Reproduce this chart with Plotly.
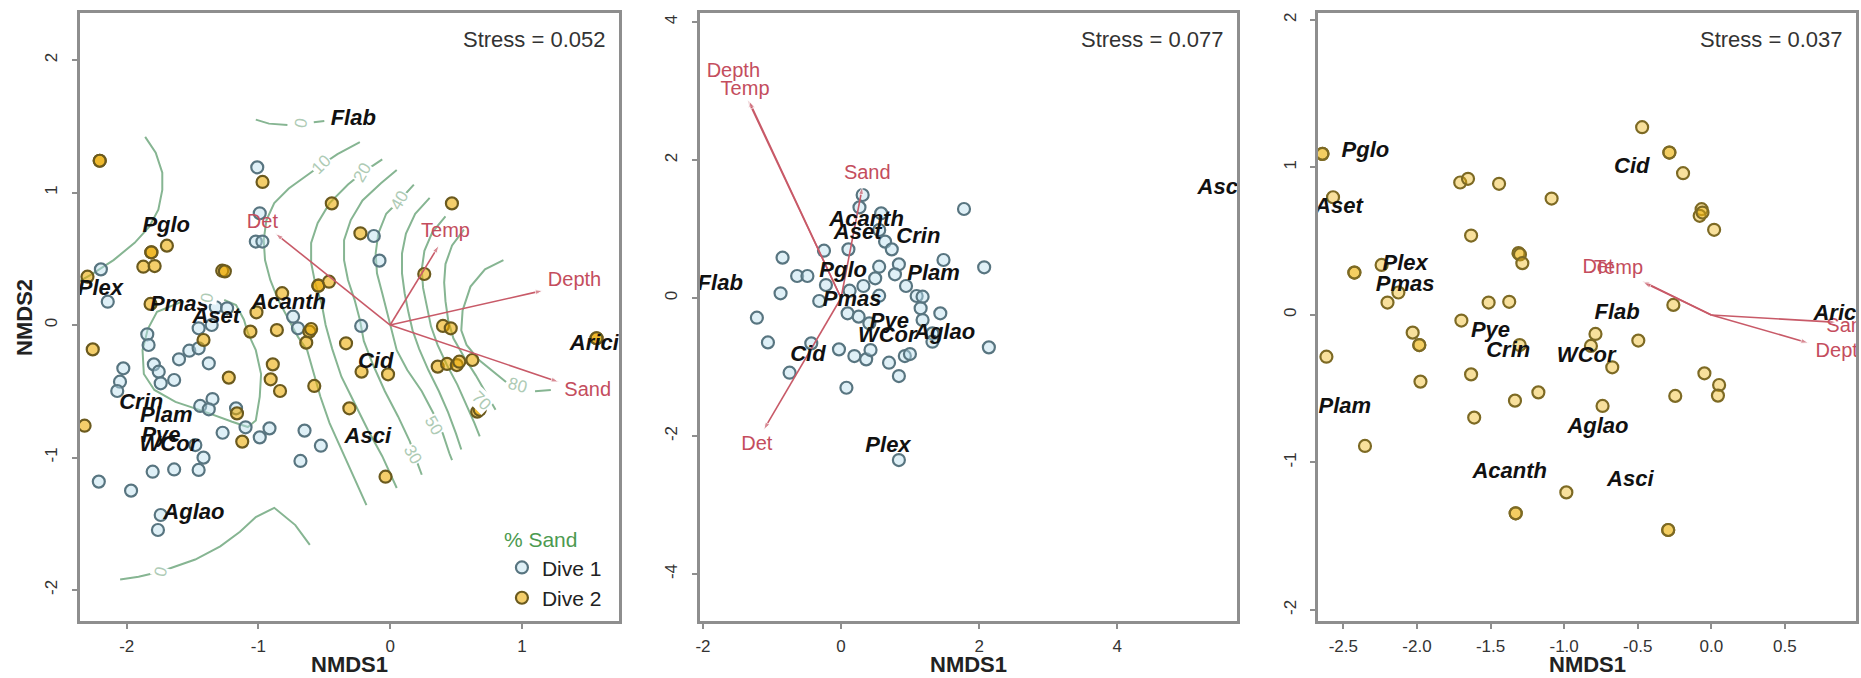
import plotly.graph_objects as go

# ---------------- data ----------------
# Panel 1: both dives, with % sand surface
p1_dive1 = [(-1.009, 1.19), (-0.99, 0.843), (-1.02, 0.63), (-0.97, 0.63), (-0.124, 0.672), (-0.081, 0.486),
            (-2.196, 0.42), (-2.144, 0.176), (-1.324, 0.134), (-1.238, 0.126), (-1.454, -0.025), (-1.355, 0.0),
            (-0.737, 0.063), (-0.70, -0.025), (-0.22, -0.007), (-1.844, -0.07), (-1.834, -0.151),
            (-2.026, -0.327), (-2.051, -0.428), (-2.072, -0.498), (-1.794, -0.297), (-1.757, -0.352),
            (-1.742, -0.44), (-1.64, -0.415), (-1.603, -0.259), (-1.525, -0.194), (-1.454, -0.176),
            (-1.377, -0.289), (-1.349, -0.559), (-1.442, -0.611), (-1.377, -0.636), (-1.17, -0.629),
            (-1.272, -0.813), (-1.098, -0.772), (-0.99, -0.848), (-0.916, -0.78), (-0.65, -0.797),
            (-0.526, -0.911), (-0.681, -1.026), (-1.417, -1.001), (-1.479, -0.906), (-1.64, -1.09),
            (-1.454, -1.094), (-1.803, -1.107), (-2.212, -1.182), (-1.967, -1.25), (-1.742, -1.434),
            (-1.763, -1.547)]
p1_dive2 = [(-2.205, 1.24), (-2.205, 1.24), (-0.969, 1.08), (-0.443, 0.918), (0.469, 0.918), (-0.226, 0.692),
            (-1.695, 0.599), (-1.813, 0.549), (-1.813, 0.549), (-1.874, 0.44), (-1.788, 0.445), (-1.275, 0.41),
            (-1.255, 0.405), (0.259, 0.385), (-0.545, 0.297), (-0.545, 0.297), (-0.464, 0.327), (-0.82, 0.24),
            (-1.819, 0.159), (-1.015, 0.096), (-1.061, -0.05), (-0.86, -0.038), (-0.613, -0.05),
            (-0.60, -0.03), (0.401, -0.007), (0.46, -0.025), (-2.298, 0.365), (1.567, -0.1), (1.567, -0.1),
            (-0.637, -0.133), (-0.335, -0.138), (-2.258, -0.184), (-1.417, -0.113), (-0.891, -0.297),
            (-1.225, -0.397), (-0.907, -0.41), (-0.836, -0.498), (-0.576, -0.46), (-0.217, -0.352),
            (-0.016, -0.372), (0.361, -0.314), (0.432, -0.294), (0.506, -0.302), (0.525, -0.277),
            (0.624, -0.264), (0.661, -0.654), (0.68, -0.64), (-0.31, -0.629), (-1.163, -0.667),
            (-2.32, -0.76), (-1.123, -0.88), (-0.035, -1.145)]
p1_species = ["Flab", "Pglo", "Plex", "Pmas", "Aset", "Acanth", "Arici", "Cid", "Crin", "Plam", "Pye",
              "WCor", "Asci", "Aglao"]
p1_species_x = [-0.28, -1.70, -2.20, -1.60, -1.32, -0.77, 1.55, -0.11, -1.89, -1.70, -1.74, -1.68, -0.17, -1.49]
p1_species_y = [1.55, 0.74, 0.27, 0.15, 0.06, 0.16, -0.15, -0.28, -0.59, -0.69, -0.84, -0.91, -0.85, -1.42]
p1_vectors = ["Det", "Temp", "Depth", "Sand"]
p1_vec_x = [-0.87, 0.37, 1.16, 1.28]
p1_vec_y = [0.69, 0.60, 0.26, -0.43]
p1_vec_lab_x = [-0.97, 0.42, 1.40, 1.50]
p1_vec_lab_y = [0.77, 0.70, 0.33, -0.50]

# % Sand contour paths (x list, y list); None breaks a path
p1_contours = [
    ([-1.02, -0.92, -0.78, None, -0.58, -0.50], [1.55, 1.52, 1.51, None, 1.53, 1.54]),
    ([-1.86, -1.78, -1.73, -1.73, -1.76, -1.83, -1.94, -2.10, -2.27, -2.36],
     [1.42, 1.30, 1.15, 1.02, 0.87, 0.74, 0.62, 0.49, 0.38, 0.33]),
    ([-1.57, -1.77, -1.84, -1.88, -1.87, -1.79, -1.63, -1.42, -1.20, -1.08, -1.02, -0.99, -0.98, -1.02,
      -1.08, -1.11, -1.17, -1.26],
     [0.18, 0.10, -0.03, -0.19, -0.37, -0.49, -0.58, -0.65, -0.73, -0.77, -0.72, -0.54, -0.37, -0.19,
      -0.06, 0.04, 0.15, 0.19]),
    ([-2.05, -1.91, -1.74, -1.65, -1.48, -1.29, -1.14, -1.02, -0.88, -0.72, -0.61],
     [-1.92, -1.90, -1.86, -1.83, -1.77, -1.67, -1.56, -1.45, -1.38, -1.51, -1.66]),
    ([-0.23, -0.40, -0.52, -0.63, -0.77, -0.88, -0.94, -0.96, -0.95, -0.91, -0.85, -0.77, -0.70, -0.63,
      -0.58, -0.53, -0.46, -0.37, -0.27, -0.18],
     [1.38, 1.29, 1.21, 1.13, 1.03, 0.92, 0.79, 0.64, 0.49, 0.34, 0.19, 0.04, -0.09, -0.19, -0.37, -0.54,
      -0.74, -0.94, -1.15, -1.36]),
    ([-0.06, -0.21, -0.32, -0.46, -0.55, -0.60, -0.60, -0.57, -0.52, -0.49, -0.44, -0.37, -0.27, -0.17,
      -0.06, 0.05],
     [1.25, 1.15, 1.06, 0.92, 0.77, 0.62, 0.47, 0.32, 0.16, 0.0, -0.18, -0.39, -0.59, -0.79, -0.99, -1.23]),
    ([0.05, -0.07, -0.21, -0.30, -0.35, -0.35, -0.32, -0.27, -0.23, -0.20, -0.13, -0.04, 0.06, 0.15, 0.21,
      0.24],
     [1.17, 1.07, 0.94, 0.79, 0.64, 0.49, 0.34, 0.19, 0.04, -0.12, -0.30, -0.50, -0.69, -0.88, -1.05,
      -1.13]),
    ([0.18, 0.07, -0.03, -0.09, -0.11, -0.10, -0.06, -0.02, 0.01, 0.05, 0.13, 0.24, 0.33, 0.40, 0.45,
      0.47],
     [1.06, 0.94, 0.84, 0.69, 0.54, 0.39, 0.24, 0.09, -0.04, -0.19, -0.34, -0.50, -0.67, -0.82, -0.97,
      -1.02]),
    ([0.30, 0.19, 0.12, 0.09, 0.09, 0.11, 0.14, 0.17, 0.22, 0.29, 0.37, 0.44, 0.50, 0.54],
     [0.96, 0.84, 0.69, 0.54, 0.39, 0.24, 0.09, -0.04, -0.18, -0.34, -0.50, -0.66, -0.82, -0.94]),
    ([0.42, 0.32, 0.26, 0.24, 0.25, 0.28, 0.31, 0.36, 0.43, 0.51, 0.58, 0.64, 0.68],
     [0.82, 0.70, 0.56, 0.42, 0.28, 0.13, -0.01, -0.15, -0.30, -0.45, -0.60, -0.74, -0.84]),
    ([0.56, 0.47, 0.42, 0.41, 0.42, 0.44, 0.48, 0.56, 0.65, 0.73, 0.80],
     [0.72, 0.60, 0.46, 0.32, 0.18, 0.04, -0.10, -0.24, -0.38, -0.52, -0.64]),
    ([0.86, 0.72, 0.61, 0.55, 0.54, 0.58, 0.67, 0.78, 0.88, None, 1.10, 1.22],
     [0.49, 0.42, 0.29, 0.11, -0.04, -0.15, -0.26, -0.35, -0.43, None, -0.50, -0.49]),
]
p1_contour_labels = ["0", "10", "20", "40", "30", "50", "70", "80", "0", "0"]
p1_contour_lab_x = [-0.675, -0.52, -0.21, 0.07, 0.17, 0.33, 0.69, 0.97, -1.74, -1.39]
p1_contour_lab_y = [1.52, 1.21, 1.15, 0.94, -0.98, -0.76, -0.57, -0.46, -1.86, 0.20]
p1_contour_lab_angle = [-80, -45, -60, -60, 60, 60, 45, 15, -75, -80]

# Panel 2: dive 1
p2_dive1 = [(0.313, 1.493), (0.267, 1.314), (1.781, 1.29), (0.581, 1.227), (0.553, 0.986), (0.638, 0.817),
            (0.735, 0.705), (-0.247, 0.686), (0.107, 0.705), (-0.847, 0.585), (1.484, 0.551), (2.073, 0.445),
            (-0.636, 0.319), (-0.487, 0.319), (0.552, 0.454), (0.495, 0.285), (0.838, 0.488), (0.781, 0.343),
            (-0.219, 0.188), (0.324, 0.174), (0.124, 0.106), (0.941, 0.174), (-0.876, 0.068), (-0.316, -0.043),
            (0.552, 0.034), (1.095, 0.029), (1.181, 0.019), (1.153, -0.149), (1.438, -0.222), (0.095, -0.222),
            (0.255, -0.27), (-1.219, -0.285), (0.41, -0.367), (1.181, -0.319), (1.324, -0.512),
            (-1.059, -0.643), (-0.431, -0.657), (-0.03, -0.744), (0.193, -0.841), (0.364, -0.889),
            (0.427, -0.754), (0.695, -0.937), (0.924, -0.841), (0.998, -0.812), (1.324, -0.633),
            (2.141, -0.715), (-0.745, -1.082), (0.838, -1.131), (0.078, -1.3), (0.838, -2.348)]
p2_species = ["Flab", "Acanth", "Aset", "Crin", "Pglo", "Plam", "Pmas", "Pye", "WCor", "Aglao", "Cid",
              "Plex", "Asci"]
p2_species_x = [-1.75, 0.37, 0.24, 1.12, 0.03, 1.34, 0.16, 0.70, 0.67, 1.50, -0.48, 0.68, 5.50]
p2_species_y = [0.20, 1.13, 0.94, 0.88, 0.38, 0.34, -0.03, -0.36, -0.56, -0.52, -0.83, -2.15, 1.58]
p2_vectors = ["Depth", "Temp", "Sand", "Det"]
p2_vec_x = [-1.35, -1.33, 0.31, -1.12]
p2_vec_y = [2.87, 2.85, 1.61, -1.91]
p2_vec_lab_x = [-1.56, -1.39, 0.38, -1.22]
p2_vec_lab_y = [3.28, 3.02, 1.80, -2.13]

# Panel 3: dive 2
p3_dive2 = [(-2.642, 1.092), (-2.642, 1.092), (-2.57, 0.798), (-2.425, 0.287), (-2.425, 0.287),
            (-2.24, 0.339), (-2.126, 0.152), (-2.2, 0.084), (-0.47, 1.273), (-0.285, 1.101), (-0.285, 1.101),
            (-0.192, 0.961), (-0.066, 0.717), (-0.079, 0.672), (-0.06, 0.694), (0.019, 0.577),
            (-1.706, 0.898), (-1.653, 0.923), (-1.442, 0.889), (-1.085, 0.789), (-1.632, 0.538),
            (-1.31, 0.419), (-1.30, 0.41), (-1.284, 0.351), (-1.513, 0.084), (-1.373, 0.089),
            (-1.698, -0.038), (-0.258, 0.068), (-0.787, -0.129), (-0.496, -0.174), (-2.029, -0.12),
            (-2.615, -0.283), (-1.984, -0.204), (-1.984, -0.204), (-1.976, -0.452), (-1.632, -0.403),
            (-1.302, -0.204), (-0.818, -0.21), (-0.673, -0.355), (-0.047, -0.396), (0.053, -0.475),
            (0.045, -0.547), (-0.245, -0.549), (-1.175, -0.525), (-1.334, -0.581), (-0.739, -0.617),
            (-1.611, -0.696), (-2.353, -0.888), (-0.985, -1.203), (-1.329, -1.345), (-1.329, -1.345),
            (-0.293, -1.458), (-0.293, -1.458)]
p3_species = ["Pglo", "Aset", "Cid", "Plex", "Pmas", "Flab", "Arici", "Pye", "Crin", "WCor", "Plam",
              "Aglao", "Acanth", "Asci"]
p3_species_x = [-2.35, -2.53, -0.54, -2.08, -2.08, -0.64, 0.86, -1.50, -1.38, -0.85, -2.49, -0.77, -1.37, -0.55]
p3_species_y = [1.11, 0.73, 1.00, 0.34, 0.20, 0.01, 0.00, -0.11, -0.25, -0.28, -0.63, -0.76, -1.07, -1.12]
p3_vectors = ["Det", "Temp", "Depth", "Sand"]
p3_vec_x = [-0.47, -0.46, 0.66, 0.85]
p3_vec_y = [0.23, 0.22, -0.19, -0.05]
p3_vec_lab_x = [-0.77, -0.63, 0.89, 0.94]
p3_vec_lab_y = [0.32, 0.31, -0.25, -0.08]

stress_values = ["0.052", "0.077", "0.037"]

# ---------------- style ----------------
W, H = 1861, 678
FONT = "Liberation Sans, Arial, sans-serif"
DIVE1_FILL, DIVE1_LINE = "rgba(185,222,238,0.45)", "#587580"
DIVE2_FILL, DIVE2_LINE = "rgba(236,170,0,0.58)", "#6b5a1e"
DIVE2_FILL_PALE, DIVE2_LINE_PALE = "rgba(238,180,20,0.42)", "#7d6a24"
ARROW = "#c85a68"
VEC_TXT = "#c44d5d"
CONTOUR = "#86b592"
CONTOUR_TXT = "#aecbb5"

# plot boxes in pixels: (left, right) and shared (top, bottom)
boxes = [(76, 616), (697, 1236), (1317, 1856)]
top_px, bot_px = 13, 621
ranges = [((-2.356, 1.735), (-2.234, 2.355)),
          ((-2.05, 5.74), (-4.68, 4.13)),
          ((-2.671, 0.983), (-2.075, 2.047))]
xticks = [[-2, -1, 0, 1], [-2, 0, 2, 4], [-2.5, -2.0, -1.5, -1.0, -0.5, 0.0, 0.5]]
xticktext = [["-2", "-1", "0", "1"], ["-2", "0", "2", "4"],
             ["-2.5", "-2.0", "-1.5", "-1.0", "-0.5", "0.0", "0.5"]]
yticks = [[-2, -1, 0, 1, 2], [-4, -2, 0, 2, 4], [-2, -1, 0, 1, 2]]
yticktext = [["-2", "-1", "0", "1", "2"], ["-4", "-2", "0", "2", "4"], ["-2", "-1", "0", "1", "2"]]

fig = go.Figure()


def xy(pts):
    return [p[0] for p in pts], [p[1] for p in pts]


def add_points(pts, fill, line, name, i, show):
    x, y = xy(pts)
    fig.add_trace(go.Scatter(
        x=x, y=y, mode="markers", name=name, showlegend=show, legendgroup=name,
        marker=dict(size=12, color=fill, line=dict(color=line, width=2.2)),
        xaxis=f"x{i}", yaxis=f"y{i}", hoverinfo="skip"))


def add_vectors(names, vx, vy, lx, ly, i):
    for a, b in zip(vx, vy):
        fig.add_trace(go.Scatter(
            x=[0, a], y=[0, b], mode="lines+markers", showlegend=False,
            line=dict(color=ARROW, width=1.6),
            marker=dict(symbol=["circle", "arrow"], size=[0, 8], color=ARROW, angleref="previous"),
            xaxis=f"x{i}", yaxis=f"y{i}", hoverinfo="skip"))
    fig.add_trace(go.Scatter(
        x=lx, y=ly, text=names, mode="text", showlegend=False,
        textfont=dict(family=FONT, size=20, color=VEC_TXT),
        xaxis=f"x{i}", yaxis=f"y{i}", hoverinfo="skip"))


def add_species(names, sx, sy, i):
    fig.add_trace(go.Scatter(
        x=sx, y=sy, text=[f"<b><i>{n}</i></b>" for n in names], mode="text", showlegend=False,
        textfont=dict(family=FONT, size=22, color="#111111"),
        xaxis=f"x{i}", yaxis=f"y{i}", hoverinfo="skip"))


# panel 1
for cx, cy in p1_contours:
    fig.add_trace(go.Scatter(x=cx, y=cy, mode="lines", showlegend=False,
                             line=dict(color=CONTOUR, width=2), xaxis="x", yaxis="y", hoverinfo="skip"))
add_points(p1_dive1, DIVE1_FILL, DIVE1_LINE, "Dive 1", "", True)
add_points(p1_dive2, DIVE2_FILL, DIVE2_LINE, "Dive 2", "", True)
add_vectors(p1_vectors, p1_vec_x, p1_vec_y, p1_vec_lab_x, p1_vec_lab_y, "")
add_species(p1_species, p1_species_x, p1_species_y, "")

# panel 2
add_points(p2_dive1, DIVE1_FILL, DIVE1_LINE, "Dive 1", 2, False)
add_vectors(p2_vectors, p2_vec_x, p2_vec_y, p2_vec_lab_x, p2_vec_lab_y, 2)
add_species(p2_species, p2_species_x, p2_species_y, 2)

# panel 3
add_points(p3_dive2, DIVE2_FILL_PALE, DIVE2_LINE_PALE, "Dive 2", 3, False)
add_vectors(p3_vectors, p3_vec_x, p3_vec_y, p3_vec_lab_x, p3_vec_lab_y, 3)
add_species(p3_species, p3_species_x, p3_species_y, 3)

axis_common = dict(showgrid=False, zeroline=False, showline=True, mirror=True, linecolor="#8e8e8e",
                   linewidth=2.5, ticks="outside", ticklen=5, tickwidth=1.5, tickcolor="#8e8e8e",
                   tickfont=dict(family=FONT, size=17, color="#333333"), tickmode="array",
                   autorange=False, fixedrange=True)

layout = dict(width=W, height=H, margin=dict(l=0, r=0, t=0, b=0),
              paper_bgcolor="white", plot_bgcolor="white", showlegend=True)
ydom = [(H - bot_px) / H, (H - top_px) / H]
for k in range(3):
    sfx = "" if k == 0 else str(k + 1)
    (xl, xr) = boxes[k]
    (xr_, yr_) = ranges[k]
    layout["xaxis" + sfx] = dict(axis_common, domain=[xl / W, xr / W], range=list(xr_),
                                 tickvals=xticks[k], ticktext=xticktext[k],
                                 anchor="y" + sfx, ticklabelstandoff=3)
    layout["yaxis" + sfx] = dict(axis_common, domain=ydom, range=list(yr_),
                                 tickvals=yticks[k], ticktext=yticktext[k], tickangle=-90,
                                 anchor="x" + sfx, ticklabelstandoff=8)
fig.update_layout(**layout)

annotations = []
for k in range(3):
    sfx = "" if k == 0 else str(k + 1)
    annotations.append(dict(text=f"Stress = {stress_values[k]}", xref=f"x{sfx} domain", yref=f"y{sfx} domain",
                            x=1, y=1, xanchor="right", yanchor="middle", xshift=-12, yshift=-27,
                            showarrow=False, font=dict(family=FONT, size=22, color="#333333")))
    annotations.append(dict(text="<b>NMDS1</b>", xref="paper", yref="paper",
                            x=(boxes[k][0] + boxes[k][1]) / 2 / W, y=(H - 664) / H,
                            xanchor="center", yanchor="middle", showarrow=False,
                            font=dict(family=FONT, size=22, color="#222222")))
annotations.append(dict(text="<b>NMDS2</b>", xref="paper", yref="paper", x=20 / W, y=(H - 317) / H,
                        xanchor="center", yanchor="middle", textangle=-90, showarrow=False,
                        font=dict(family=FONT, size=22, color="#222222")))
for t, x, y, a in zip(p1_contour_labels, p1_contour_lab_x, p1_contour_lab_y, p1_contour_lab_angle):
    annotations.append(dict(text=t, x=x, y=y, xref="x", yref="y", textangle=a, showarrow=False,
                            bgcolor="white", borderpad=0,
                            font=dict(family=FONT, size=17, color=CONTOUR_TXT)))
fig.update_layout(annotations=annotations)

fig.update_layout(legend=dict(
    x=499 / W, y=(H - 520) / H, xanchor="left", yanchor="top", bgcolor="rgba(0,0,0,0)",
    borderwidth=0, font=dict(family=FONT, size=21, color="#222222"), tracegroupgap=0,
    title=dict(text="% Sand", font=dict(family=FONT, size=21, color="#4c9a50"), side="top"),
))

fig.write_html("out.html")
